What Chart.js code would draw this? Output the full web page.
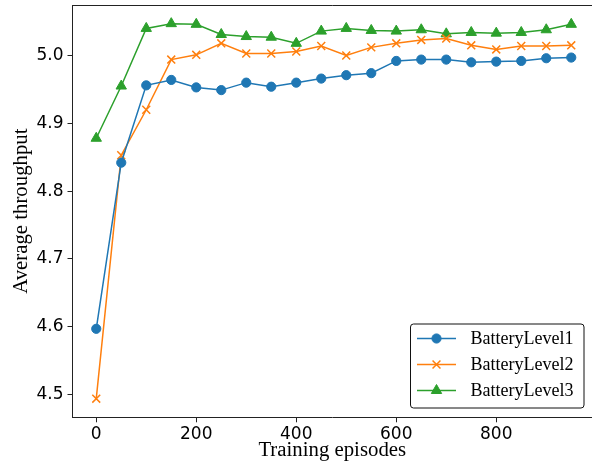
<!DOCTYPE html>
<html lang="en">
<head>
  <meta charset="UTF-8" />
  <title>Average throughput vs training episodes</title>
  <script src="https://cdn.jsdelivr.net/npm/chart.js"></script>
  <style>
    html, body {
      margin: 0;
      padding: 0;
      background: #fff;
      overflow: hidden;
    }
    #wrap {
      width: 592px;
      height: 465px;
    }
  </style>
</head>
<body>
  <div id="wrap"><canvas id="chart" width="592" height="465"></canvas></div>

  <script>
    const episodes = [0, 50, 100, 150, 200, 250, 300, 350, 400, 450, 500, 550, 600, 650, 700, 750, 800, 850, 900, 950];

    const battery1 = [4.597, 4.842, 4.956, 4.964, 4.953, 4.949, 4.960, 4.954, 4.960, 4.966, 4.971, 4.974,
                      4.992, 4.994, 4.994, 4.990, 4.991, 4.992, 4.996, 4.997];
    const battery2 = [4.494, 4.853, 4.920, 4.994, 5.001, 5.018, 5.003, 5.003, 5.006, 5.014, 5.000, 5.012,
                      5.018, 5.023, 5.025, 5.015, 5.009, 5.014, 5.014, 5.015];
    const battery3 = [4.878, 4.955, 5.040, 5.047, 5.046, 5.031, 5.028, 5.027, 5.018, 5.036, 5.040, 5.037,
                      5.036, 5.038, 5.032, 5.034, 5.033, 5.034, 5.038, 5.046];

    const seriesNames = ['BatteryLevel1', 'BatteryLevel2', 'BatteryLevel3'];
    const seriesColors = ['#1f77b4', '#ff7f0e', '#2ca02c'];

    const xTicks = [0, 200, 400, 600, 800];
    const yTicks = [4.5, 4.6, 4.7, 4.8, 4.9, 5.0];

    const serif = "'Liberation Serif', 'Times New Roman', serif";
    const sans = "'DejaVu Sans', sans-serif";

    const toPoints = vals => vals.map((v, i) => ({ x: episodes[i], y: v }));

    // top spine + matplotlib style legend (line with marker in the middle)
    const extras = {
      id: 'extras',
      afterDraw(chart) {
        const ctx = chart.ctx;
        const area = chart.chartArea;
        ctx.save();
        ctx.strokeStyle = '#222';
        ctx.lineWidth = 1;
        ctx.beginPath();
        ctx.moveTo(area.left, area.top + 0.5);
        ctx.lineTo(area.right, area.top + 0.5);
        ctx.stroke();

        // legend box
        const bx = 410.5, by = 324, bw = 173.5, bh = 84;
        ctx.fillStyle = 'rgba(255,255,255,0.8)';
        ctx.strokeStyle = '#111';
        ctx.lineWidth = 1;
        ctx.beginPath();
        ctx.roundRect(bx, by, bw, bh, 3);
        ctx.fill();
        ctx.stroke();

        chart.data.datasets.forEach((ds, i) => {
          const y = by + 14.5 + i * 26;
          const x0 = bx + 6.5, x1 = bx + 45.5, xm = (x0 + x1) / 2;
          ctx.strokeStyle = ds.borderColor;
          ctx.lineWidth = ds.borderWidth;
          ctx.beginPath();
          ctx.moveTo(x0, y);
          ctx.lineTo(x1, y);
          ctx.stroke();

          const r = ds.pointRadius;
          ctx.fillStyle = ds.pointBackgroundColor;
          ctx.strokeStyle = ds.pointBorderColor;
          ctx.lineWidth = ds.pointBorderWidth;
          ctx.beginPath();
          if (ds.pointStyle === 'circle') {
            ctx.arc(xm, y, r, 0, Math.PI * 2);
            ctx.fill();
            ctx.stroke();
          } else if (ds.pointStyle === 'crossRot') {
            const d = r * Math.SQRT1_2;
            ctx.moveTo(xm - d, y - d); ctx.lineTo(xm + d, y + d);
            ctx.moveTo(xm - d, y + d); ctx.lineTo(xm + d, y - d);
            ctx.stroke();
          } else {
            ctx.moveTo(xm, y - r);
            ctx.lineTo(xm + r * Math.sin(Math.PI * 2 / 3), y - r * Math.cos(Math.PI * 2 / 3));
            ctx.lineTo(xm - r * Math.sin(Math.PI * 2 / 3), y - r * Math.cos(Math.PI * 2 / 3));
            ctx.closePath();
            ctx.fill();
            ctx.stroke();
          }

          ctx.fillStyle = '#000';
          ctx.font = '18px ' + serif;
          ctx.textBaseline = 'middle';
          ctx.textAlign = 'left';
          ctx.fillText(ds.label, bx + 60, y + 1);
        });
        ctx.restore();
      }
    };

    const makeSet = (i, vals, style, radius, bw) => ({
      label: seriesNames[i],
      data: toPoints(vals),
      borderColor: seriesColors[i],
      backgroundColor: seriesColors[i],
      borderWidth: 1.5,
      pointStyle: style,
      pointRadius: radius,
      pointBackgroundColor: seriesColors[i],
      pointBorderColor: seriesColors[i],
      pointBorderWidth: bw,
      tension: 0
    });

    new Chart(document.getElementById('chart'), {
      type: 'line',
      data: {
        datasets: [
          makeSet(0, battery1, 'circle', 4.6, 1),
          makeSet(1, battery2, 'crossRot', 5.6, 1.5),
          makeSet(2, battery3, 'triangle', 6, 1)
        ]
      },
      options: {
        responsive: false,
        animation: false,
        events: [],
        layout: { autoPadding: false, padding: { top: 5, right: 0, left: 0, bottom: 0 } },
        plugins: {
          legend: { display: false },
          tooltip: { enabled: false }
        },
        scales: {
          x: {
            type: 'linear',
            min: -47.5,
            max: 991.5,
            afterBuildTicks: s => { s.ticks = xTicks.map(v => ({ value: v })); },
            afterFit: s => { s.height = 47.7; s.paddingLeft = 0; s.paddingRight = 0; },
            grid: { drawOnChartArea: false, drawTicks: true, tickLength: 5, color: '#222' },
            border: { display: true, color: '#222', width: 1 },
            ticks: {
              maxRotation: 0,
              autoSkip: false,
              padding: 2.5,
              color: '#000',
              font: { family: sans, size: 17 }
            },
            title: {
              display: true,
              text: 'Training episodes',
              color: '#000',
              font: { family: serif, size: 20.8 },
              padding: { top: 0, bottom: 1.5 }
            }
          },
          y: {
            min: 4.4665,
            max: 5.0745,
            afterBuildTicks: s => { s.ticks = yTicks.map(v => ({ value: v })); },
            afterFit: s => { s.width = 72.5; s.paddingTop = 0; s.paddingBottom = 0; },
            grid: { drawOnChartArea: false, drawTicks: true, tickLength: 5, color: '#222' },
            border: { display: true, color: '#222', width: 1 },
            ticks: {
              autoSkip: false,
              padding: 4,
              color: '#000',
              font: { family: sans, size: 17 },
              callback: v => v.toFixed(1)
            },
            title: {
              display: true,
              text: 'Average throughput',
              color: '#000',
              font: { family: serif, size: 20.8 },
              padding: { top: 9.5, bottom: 0 }
            }
          }
        }
      },
      plugins: [extras]
    });
  </script>
</body>
</html>
